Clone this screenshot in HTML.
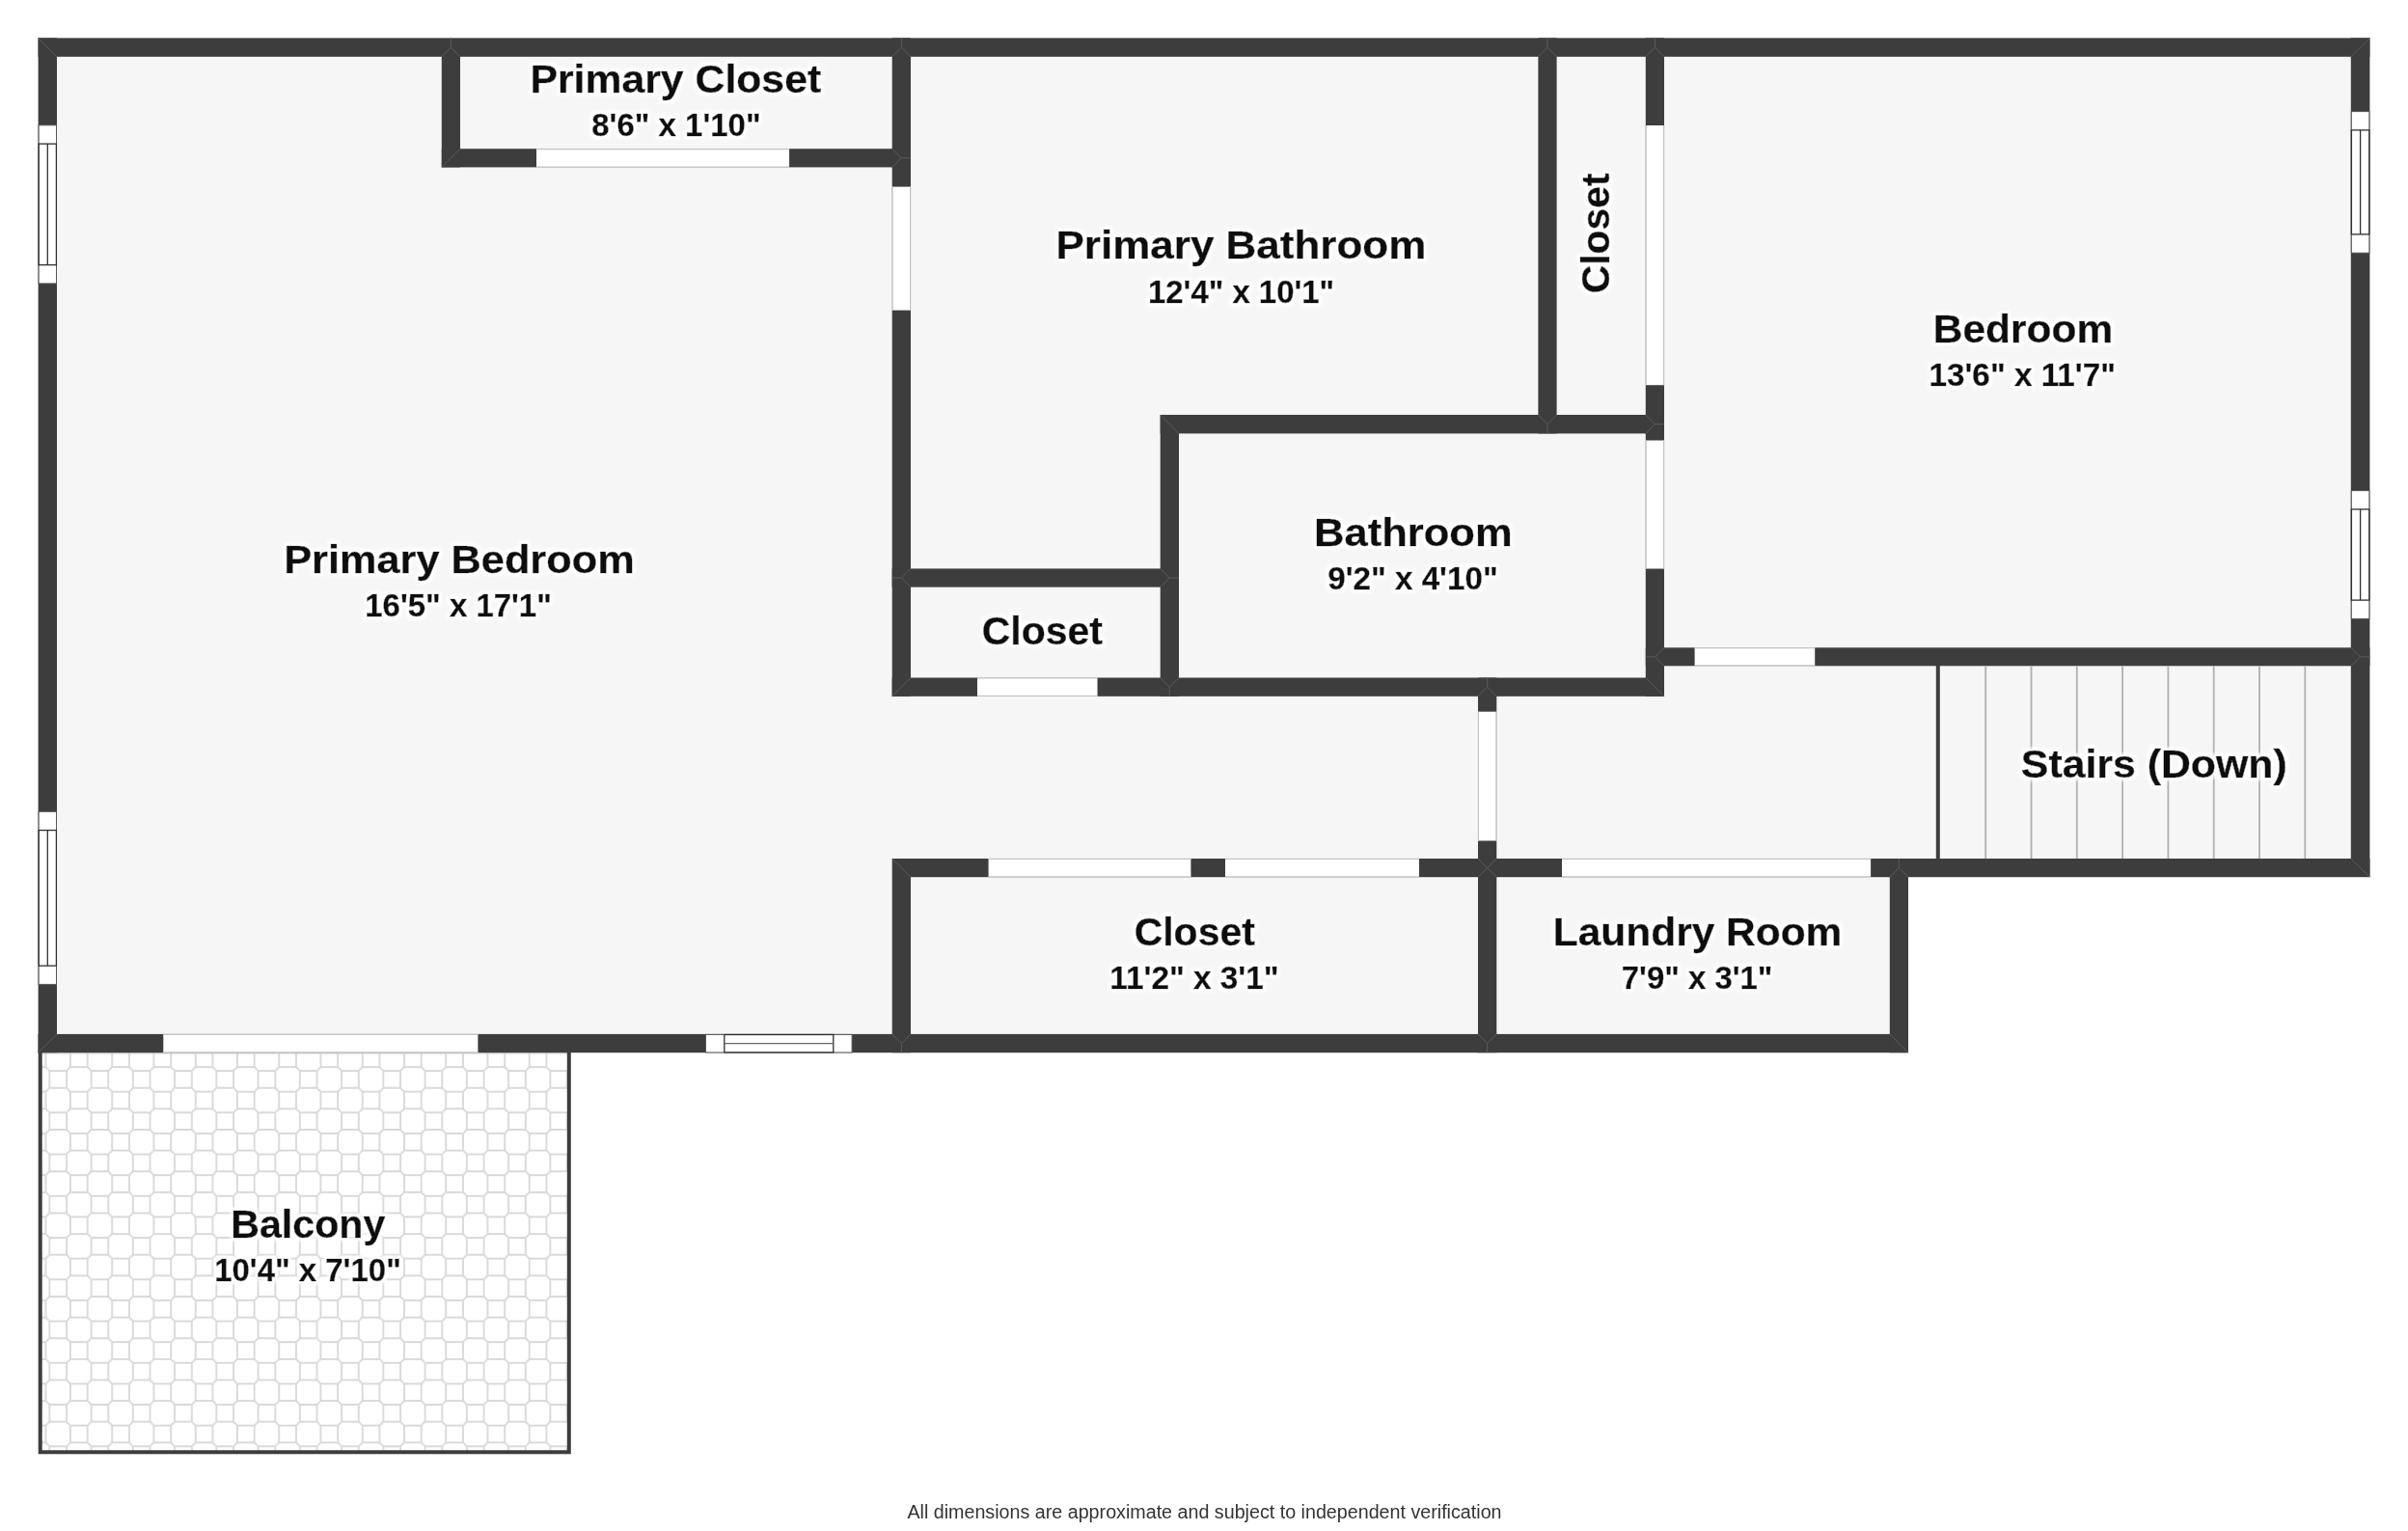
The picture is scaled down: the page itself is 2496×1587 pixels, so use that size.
<!DOCTYPE html>
<html lang="en"><head><meta charset="utf-8"><title>Floor plan</title>
<style>html,body{margin:0;padding:0;background:#fff}body{width:2496px;height:1587px;overflow:hidden}svg{display:block}.t{font-family:"Liberation Sans","DejaVu Sans",sans-serif;font-weight:700;fill:#111;text-anchor:middle;stroke:#111;stroke-width:.5px}.d{stroke-width:.45px}.tg{filter:url(#halo)}.n{font-size:40.6px}.d{font-size:33.4px}.f{filter:brightness(1);font-family:"Liberation Sans","DejaVu Sans",sans-serif;font-size:19.5px;fill:#333;text-anchor:middle}</style></head><body>
<svg width="2496" height="1587" viewBox="0 0 2496 1587">
<defs><filter id="halo" filterUnits="userSpaceOnUse" x="0" y="0" width="2496" height="1587"><feMorphology in="SourceAlpha" operator="dilate" radius="2.5" result="d"/><feGaussianBlur in="d" stdDeviation="1.6" result="b"/><feFlood flood-color="#fff" flood-opacity=".95" result="c"/><feComposite in="c" in2="b" operator="in" result="h"/><feMerge><feMergeNode in="h"/><feMergeNode in="SourceGraphic"/></feMerge></filter><pattern id="tile" x="60.20" y="1140.50" width="43.25" height="43.25" patternUnits="userSpaceOnUse">
<g fill="none" stroke="#d9d9d9" stroke-width="1.9" stroke-linejoin="round" stroke-linecap="round">
<rect x="12.72" y="-8.90" width="17.80" height="17.80"/>
<rect x="12.72" y="34.35" width="17.80" height="17.80"/>
<rect x="-8.90" y="12.72" width="17.80" height="17.80"/>
<rect x="34.35" y="12.72" width="17.80" height="17.80"/>
<line x1="30.52" y1="34.35" x2="34.35" y2="30.52"/>
<line x1="30.52" y1="8.90" x2="34.35" y2="12.72"/>
<line x1="12.72" y1="34.35" x2="8.90" y2="30.52"/>
<line x1="12.72" y1="8.90" x2="8.90" y2="12.72"/>
</g></pattern></defs>
<path fill="#f6f6f6" d="M40 40H2456V909H1978V1091H40Z"/>
<rect x="42" y="1091" width="548" height="414" fill="#fff"/>
<rect x="42" y="1091" width="548" height="414" fill="url(#tile)"/>
<path stroke="#cfcfcf" stroke-width="1.2" d="M44 1091.8H588"/>
<path fill="none" stroke="#3d3d3d" stroke-width="4" d="M41.7 1089V1505.3H589.8V1089"/>
<g>
<rect x="39.6" y="39.4" width="2416.8" height="19.4" fill="#3d3d3d"/>
<rect x="39.6" y="39.4" width="19.4" height="1051.8" fill="#3d3d3d"/>
<rect x="2436.8" y="39.4" width="19.6" height="869.6" fill="#3d3d3d"/>
<rect x="39.6" y="1071.9" width="1938.4" height="19.3" fill="#3d3d3d"/>
<rect x="925.0" y="890.0" width="1531.4" height="19.2" fill="#3d3d3d"/>
<rect x="1958.8" y="890.0" width="19.2" height="201.2" fill="#3d3d3d"/>
<rect x="457.8" y="58.0" width="19.2" height="115.4" fill="#3d3d3d"/>
<rect x="457.8" y="154.2" width="486.2" height="19.2" fill="#3d3d3d"/>
<rect x="924.7" y="39.4" width="19.3" height="682.4" fill="#3d3d3d"/>
<rect x="924.7" y="589.4" width="297.3" height="19.2" fill="#3d3d3d"/>
<rect x="924.7" y="702.5" width="800.3" height="19.3" fill="#3d3d3d"/>
<rect x="1202.7" y="430.0" width="19.3" height="291.8" fill="#3d3d3d"/>
<rect x="1202.7" y="430.0" width="522.3" height="19.4" fill="#3d3d3d"/>
<rect x="1594.4" y="39.4" width="19.2" height="410.0" fill="#3d3d3d"/>
<rect x="1705.8" y="39.4" width="19.2" height="682.4" fill="#3d3d3d"/>
<rect x="1705.8" y="671.3" width="750.6" height="19.0" fill="#3d3d3d"/>
<rect x="1532.0" y="702.5" width="19.3" height="388.7" fill="#3d3d3d"/>
<rect x="924.7" y="890.0" width="19.3" height="201.2" fill="#3d3d3d"/>
</g>
<path fill="none" stroke="#5e5e5e" stroke-width=".9" d="M39.6 39.4L59.0 58.8M2456.4 39.4L2436.8 58.8M39.6 1091.2L59.0 1071.9M2456.4 909.2L2436.8 890.0M1978.0 1091.2L1958.8 1071.9M457.8 173.4L477.0 154.2M1202.7 430.0L1222.0 449.4M1725.0 721.8L1705.8 702.5M924.7 721.8L944.0 702.5M924.7 890.0L944.0 909.2M457.8 58.8L467.4 49.1L477.0 58.8M467.4 49.1V39.4M924.7 58.8L934.4 49.1L944.0 58.8M934.4 49.1V39.4M1594.4 58.8L1604.0 49.1L1613.6 58.8M1604.0 49.1V39.4M1705.8 58.8L1715.4 49.1L1725.0 58.8M1715.4 49.1V39.4M924.7 154.2L934.4 163.8L924.7 173.4M934.4 163.8H944.0M944.0 589.4L934.4 599.0L944.0 608.6M934.4 599.0H924.7M1202.7 589.4L1212.3 599.0L1202.7 608.6M1212.3 599.0H1222.0M1202.7 702.5L1212.3 712.1L1222.0 702.5M1212.3 712.1V721.8M1594.4 430.0L1604.0 439.7L1613.6 430.0M1604.0 439.7V449.4M1705.8 430.0L1715.4 439.7L1705.8 449.4M1715.4 439.7H1725.0M1725.0 671.3L1715.4 680.8L1725.0 690.3M1715.4 680.8H1705.8M2436.8 671.3L2446.6 680.8L2436.8 690.3M2446.6 680.8H2456.4M1532.0 721.8L1541.7 712.1L1551.3 721.8M1541.7 712.1V702.5M1532.0 890.0L1551.3 909.2M1551.3 890.0L1532.0 909.2M924.7 1071.9L934.4 1081.6L944.0 1071.9M934.4 1081.6V1091.2M1532.0 1071.9L1541.7 1081.6L1551.3 1071.9M1541.7 1081.6V1091.2M1958.8 909.2L1968.4 899.6L1978.0 909.2M1968.4 899.6V890.0"/>
<g>
<rect x="556.0" y="154.2" width="262.1" height="19.2" fill="#fff"/>
<path stroke="#c4c4c4" stroke-width="1.2" fill="none" d="M556.0 154.6H818.1M556.0 173.0H818.1"/>
<rect x="924.7" y="193.6" width="19.3" height="128.0" fill="#fff"/>
<path stroke="#c4c4c4" stroke-width="1.2" fill="none" d="M925.1 193.6V321.6M943.6 193.6V321.6"/>
<rect x="1705.8" y="130.0" width="19.2" height="269.2" fill="#fff"/>
<path stroke="#c4c4c4" stroke-width="1.2" fill="none" d="M1706.2 130.0V399.2M1724.6 130.0V399.2"/>
<rect x="1705.8" y="456.5" width="19.2" height="133.0" fill="#fff"/>
<path stroke="#c4c4c4" stroke-width="1.2" fill="none" d="M1706.2 456.5V589.5M1724.6 456.5V589.5"/>
<rect x="1013.0" y="702.5" width="124.5" height="19.3" fill="#fff"/>
<path stroke="#c4c4c4" stroke-width="1.2" fill="none" d="M1013.0 702.9H1137.5M1013.0 721.4H1137.5"/>
<rect x="1756.6" y="671.3" width="124.6" height="19.0" fill="#fff"/>
<path stroke="#c4c4c4" stroke-width="1.2" fill="none" d="M1756.6 671.7H1881.2M1756.6 689.9H1881.2"/>
<rect x="1532.0" y="737.7" width="19.3" height="133.8" fill="#fff"/>
<path stroke="#c4c4c4" stroke-width="1.2" fill="none" d="M1532.4 737.7V871.5M1550.9 737.7V871.5"/>
<rect x="1024.6" y="890.0" width="209.8" height="19.2" fill="#fff"/>
<path stroke="#c4c4c4" stroke-width="1.2" fill="none" d="M1024.6 890.4H1234.4M1024.6 908.8H1234.4"/>
<rect x="1270.0" y="890.0" width="201.0" height="19.2" fill="#fff"/>
<path stroke="#c4c4c4" stroke-width="1.2" fill="none" d="M1270.0 890.4H1471.0M1270.0 908.8H1471.0"/>
<rect x="1619.0" y="890.0" width="320.1" height="19.2" fill="#fff"/>
<path stroke="#c4c4c4" stroke-width="1.2" fill="none" d="M1619.0 890.4H1939.1M1619.0 908.8H1939.1"/>
<rect x="169.3" y="1071.9" width="326.1" height="19.3" fill="#fff"/>
<path stroke="#c4c4c4" stroke-width="1.2" fill="none" d="M169.3 1072.3H495.4M169.3 1090.8H495.4"/>
</g>
<g fill="#fff" stroke="#2e2e2e" stroke-width="1.3">
<rect x="40.1" y="129.8" width="18.4" height="164.1" stroke="#555" stroke-width="1"/>
<rect x="40.2" y="149.1" width="18.2" height="125.5"/>
<path d="M49.3 149.1V274.6"/>
</g>
<g fill="#fff" stroke="#2e2e2e" stroke-width="1.3">
<rect x="40.1" y="841.3" width="18.4" height="179.1" stroke="#555" stroke-width="1"/>
<rect x="40.2" y="860.6" width="18.2" height="140.5"/>
<path d="M49.3 860.6V1001.1"/>
</g>
<g fill="#fff" stroke="#2e2e2e" stroke-width="1.3">
<rect x="2437.3" y="115.6" width="18.6" height="146.6" stroke="#555" stroke-width="1"/>
<rect x="2437.4" y="134.9" width="18.4" height="108.0"/>
<path d="M2446.6 134.9V242.9"/>
</g>
<g fill="#fff" stroke="#2e2e2e" stroke-width="1.3">
<rect x="2437.3" y="508.6" width="18.6" height="132.8" stroke="#555" stroke-width="1"/>
<rect x="2437.4" y="527.9" width="18.4" height="94.2"/>
<path d="M2446.6 527.9V622.1"/>
</g>
<g fill="#fff" stroke="#2e2e2e" stroke-width="1.3">
<rect x="731.5" y="1072.4" width="151.6" height="18.6" stroke="#555" stroke-width="1"/>
<rect x="750.8" y="1072.5" width="113.0" height="18.4"/>
<path stroke="#666" d="M750.8 1081.7H863.8"/>
</g>
<rect x="2006.8" y="690" width="4" height="200" fill="#3d3d3d"/>
<g stroke="#b0b0b0" stroke-width="1.8">
<line x1="2058.2" y1="690.3" x2="2058.2" y2="890"/>
<line x1="2105.5" y1="690.3" x2="2105.5" y2="890"/>
<line x1="2152.8" y1="690.3" x2="2152.8" y2="890"/>
<line x1="2200.1" y1="690.3" x2="2200.1" y2="890"/>
<line x1="2247.4" y1="690.3" x2="2247.4" y2="890"/>
<line x1="2294.7" y1="690.3" x2="2294.7" y2="890"/>
<line x1="2342.0" y1="690.3" x2="2342.0" y2="890"/>
<line x1="2389.3" y1="690.3" x2="2389.3" y2="890"/>
</g>
<g class="tg">
<text class="t n" x="700.30" y="96.1" textLength="301.69" lengthAdjust="spacingAndGlyphs">Primary Closet</text>
<text class="t d" x="700.91" y="141.3" textLength="175.30" lengthAdjust="spacingAndGlyphs">8'6&quot; x 1'10&quot;</text>
<text class="t n" x="475.91" y="594.1" textLength="363.50" lengthAdjust="spacingAndGlyphs">Primary Bedroom</text>
<text class="t d" x="475.07" y="639.3" textLength="193.55" lengthAdjust="spacingAndGlyphs">16'5&quot; x 17'1&quot;</text>
<text class="t n" x="1286.40" y="268.3" textLength="383.75" lengthAdjust="spacingAndGlyphs">Primary Bathroom</text>
<text class="t d" x="1286.56" y="314.2" textLength="193.18" lengthAdjust="spacingAndGlyphs">12'4&quot; x 10'1&quot;</text>
<text class="t n" x="2096.99" y="355.3" textLength="186.37" lengthAdjust="spacingAndGlyphs">Bedroom</text>
<text class="t d" x="2096.26" y="400.4" textLength="193.67" lengthAdjust="spacingAndGlyphs">13'6&quot; x 11'7&quot;</text>
<text class="t n" x="1464.87" y="566.4" textLength="205.51" lengthAdjust="spacingAndGlyphs">Bathroom</text>
<text class="t d" x="1464.42" y="611.4" textLength="176.42" lengthAdjust="spacingAndGlyphs">9'2&quot; x 4'10&quot;</text>
<text class="t n" x="1080.29" y="667.8" textLength="125.24" lengthAdjust="spacingAndGlyphs">Closet</text>
<text class="t n" x="1238.26" y="980.1" textLength="125.19" lengthAdjust="spacingAndGlyphs">Closet</text>
<text class="t d" x="1237.89" y="1025.2" textLength="175.27" lengthAdjust="spacingAndGlyphs">11'2&quot; x 3'1&quot;</text>
<text class="t n" x="1759.59" y="980.1" textLength="299.58" lengthAdjust="spacingAndGlyphs">Laundry Room</text>
<text class="t d" x="1759.11" y="1025.3" textLength="156.71" lengthAdjust="spacingAndGlyphs">7'9&quot; x 3'1&quot;</text>
<text class="t n" x="2232.78" y="805.9" textLength="275.86" lengthAdjust="spacingAndGlyphs">Stairs (Down)</text>
<text class="t n" x="319.32" y="1283.3" textLength="160.15" lengthAdjust="spacingAndGlyphs">Balcony</text>
<text class="t d" x="318.96" y="1328.4" textLength="193.65" lengthAdjust="spacingAndGlyphs">10'4&quot; x 7'10&quot;</text>
<text class="t n" x="0" y="0" textLength="124.78" lengthAdjust="spacingAndGlyphs" transform="translate(1668.2 241.85) rotate(-90)">Closet</text>
</g>
<text class="f" x="1248.47" y="1574.3" textLength="616.12" lengthAdjust="spacingAndGlyphs">All dimensions are approximate and subject to independent verification</text>
</svg></body></html>
